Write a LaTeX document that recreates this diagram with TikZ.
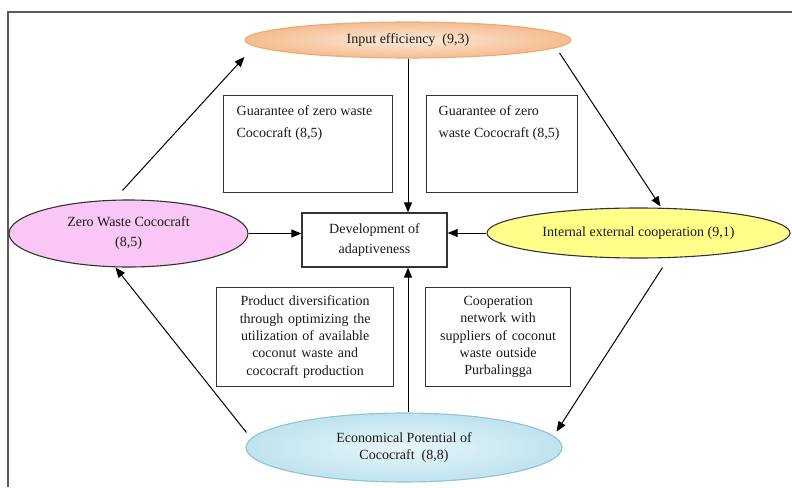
\documentclass[tikz,border=0pt]{standalone}
\usepackage{fontspec}
\setmainfont{Liberation Serif}
\usetikzlibrary{shapes.geometric,arrows.meta}

\definecolor{peachdark}{HTML}{F4BC8E}
\definecolor{peachlight}{HTML}{FDEBDD}
\definecolor{peachedge}{HTML}{EDAA74}
\definecolor{pinkfill}{HTML}{F9C6F5}
\definecolor{yellowfill}{HTML}{FFFF8A}
\definecolor{bluedark}{HTML}{BFE3EE}
\definecolor{bluelight}{HTML}{E8F6FA}
\definecolor{blueedge}{HTML}{8DC4D8}
\definecolor{inkgray}{HTML}{333333}

\begin{document}
\begin{tikzpicture}[x=1pt,y=-1pt,
        every node/.style={font=\fontsize{14}{17.3}\selectfont, text=black!90},
        oval/.style={ellipse, draw=inkgray, line width=1.1pt, align=center, inner sep=2pt},
        box/.style={draw=inkgray, line width=1.3pt, inner sep=0pt},
        arr/.style={-{Triangle[length=10pt,width=8pt]}, line width=1pt}]
            \useasboundingbox (0,0) rectangle (792,487);
            \draw[line width=1.6pt, black!65] (8,487) -- (8,12) -- (792,12);
            \node[oval, draw=peachedge, inner color=peachlight, outer color=peachdark, minimum width=326pt, minimum height=36pt] (inp) at (408,40) {Input efficiency~ (9,3)};
            \node[oval, fill=pinkfill, minimum width=239pt, minimum height=67pt, font=\fontsize{14}{20}\selectfont] (zwc) at (128.5,233.5) {Zero Waste Cococraft\\(8,5)};
            \node[oval, fill=yellowfill, minimum width=303pt, minimum height=50pt] (iec) at (638.5,233) {Internal external cooperation (9,1)};
            \node[oval, draw=blueedge, inner color=bluelight, outer color=bluedark, minimum width=316pt, minimum height=69pt] (ecp) at (404,447.5) {Economical Potential of\\Cococraft~ (8,8)};
            \node[box, minimum width=145pt, minimum height=54pt, align=center, font=\fontsize{14}{20}\selectfont] (dev) at (374.5,240) {Development of\\adaptiveness};
            \node[box, anchor=north west, inner xsep=13pt, inner ysep=10pt] (gz1) at (223,95) {\parbox[c][77pt][t]{143pt}{\fontsize{14}{22}\selectfont Guarantee of zero waste\\Cococraft (8,5)}};
            \node[box, anchor=north west, inner xsep=12pt, inner ysep=10pt] (gz2) at (426,95) {\parbox[c][77pt][t]{127pt}{\fontsize{14}{22}\selectfont Guarantee of zero\\waste Cococraft (8,5)}};
            \node[box, anchor=north west, minimum height=99pt, text width=165pt, inner xsep=6pt, align=center] (pd) at (216,287) {Product diversification\\through optimizing the\\utilization of available\\coconut waste and\\cococraft production};
            \node[box, anchor=north west, minimum height=99pt, text width=133pt, inner xsep=6pt, align=center] (cn) at (425,287) {Cooperation\\network with\\suppliers of coconut\\waste outside\\Purbalingga};
            \draw[arr] (inp.south) -- (dev.north -| inp.south);
            \draw[arr] (ecp.north -| inp.south) -- (dev.south -| inp.south);
            \draw[arr] (zwc.east) -- (zwc.east -| dev.west);
            \draw[arr] (iec.west) -- (iec.west -| dev.east);
            \draw[arr] ([shift={(-6,-9)}]zwc.north) -- ([shift={(0,17)}]inp.west);
            \draw[arr] ([shift={(-12,13)}]inp.east) -- ([shift={(22,-1)}]iec.north);
            \draw[arr] ([shift={(24,9)}]iec.south) -- ([shift={(-6,-16)}]ecp.east);
            \draw[arr] ([shift={(1,-15)}]ecp.west) -- ([shift={(-13,0)}]zwc.south);
        \end{tikzpicture}
\end{document}
